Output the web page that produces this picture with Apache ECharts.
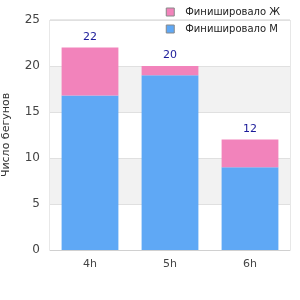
<!DOCTYPE html>
<html>
<head>
<meta charset="utf-8">
<script src="https://cdn.jsdelivr.net/npm/echarts@6/dist/echarts.min.js"></script>
<style>html,body{margin:0;padding:0;background:#fff;}</style>
</head>
<body>
<div id="chart" style="width:300px;height:300px;"></div>
<script>
// данные
var categories = ["4h", "5h", "6h"];
var menValues = [16.8, 19, 9];
var womenValues = [5.2, 1, 3];
var totals = [22, 20, 12];
var yTicks = [0, 5, 10, 15, 20, 25];

var chart = echarts.init(document.getElementById("chart"));
var font = "DejaVu Sans";
var option = {
  animation: false,
  textStyle: { fontFamily: font },
  legend: {
    orient: "vertical",
    right: 15,
    top: 2,
    icon: "rect",
    itemWidth: 8,
    itemHeight: 8,
    itemGap: 7,
    data: ["Финишировало Ж", "Финишировало М"],
    textStyle: { fontSize: 10, color: "#222", fontFamily: font, padding: [0, 0, 0, 6] },
    itemStyle: { borderColor: "#888", borderWidth: 1 }
  },
  grid: {
    left: 50, right: 10, top: 20, bottom: 50,
    outerBoundsMode: "none",
    containLabel: false,
    show: true, borderColor: "#d0d0d0", borderWidth: 1, backgroundColor: "transparent"
  },
  xAxis: {
    type: "category",
    data: categories,
    axisTick: { show: false },
    axisLine: { lineStyle: { color: "#d0d0d0" } },
    axisLabel: { color: "#444", fontSize: 11, margin: 9, fontFamily: font }
  },
  yAxis: {
    type: "value",
    min: yTicks[0],
    max: yTicks[yTicks.length - 1],
    interval: 5,
    name: "Число бегунов",
    nameLocation: "middle",
    nameGap: 38,
    nameTextStyle: { color: "#333", fontSize: 11, fontFamily: font },
    axisLine: { show: false },
    axisTick: { show: false },
    axisLabel: { color: "#444", fontSize: 12, margin: 10, fontFamily: font },
    splitLine: { lineStyle: { color: "#e0e0e0" } },
    splitArea: { show: true, areaStyle: { color: ["#ffffff", "#f2f2f2"] } }
  },
  series: [
    {
      name: "Финишировало М",
      type: "bar",
      stack: "total",
      barWidth: "71%",
      data: menValues,
      itemStyle: { color: "#5fa8f5" }
    },
    {
      name: "Финишировало Ж",
      type: "bar",
      stack: "total",
      data: womenValues,
      itemStyle: { color: "#f283bb" },
      label: {
        show: true,
        position: "top",
        color: "#1a1a99",
        fontSize: 11,
        fontFamily: font,
        formatter: function (p) { return totals[p.dataIndex]; }
      }
    }
  ]
};
chart.setOption(option);
</script>
</body>
</html>
